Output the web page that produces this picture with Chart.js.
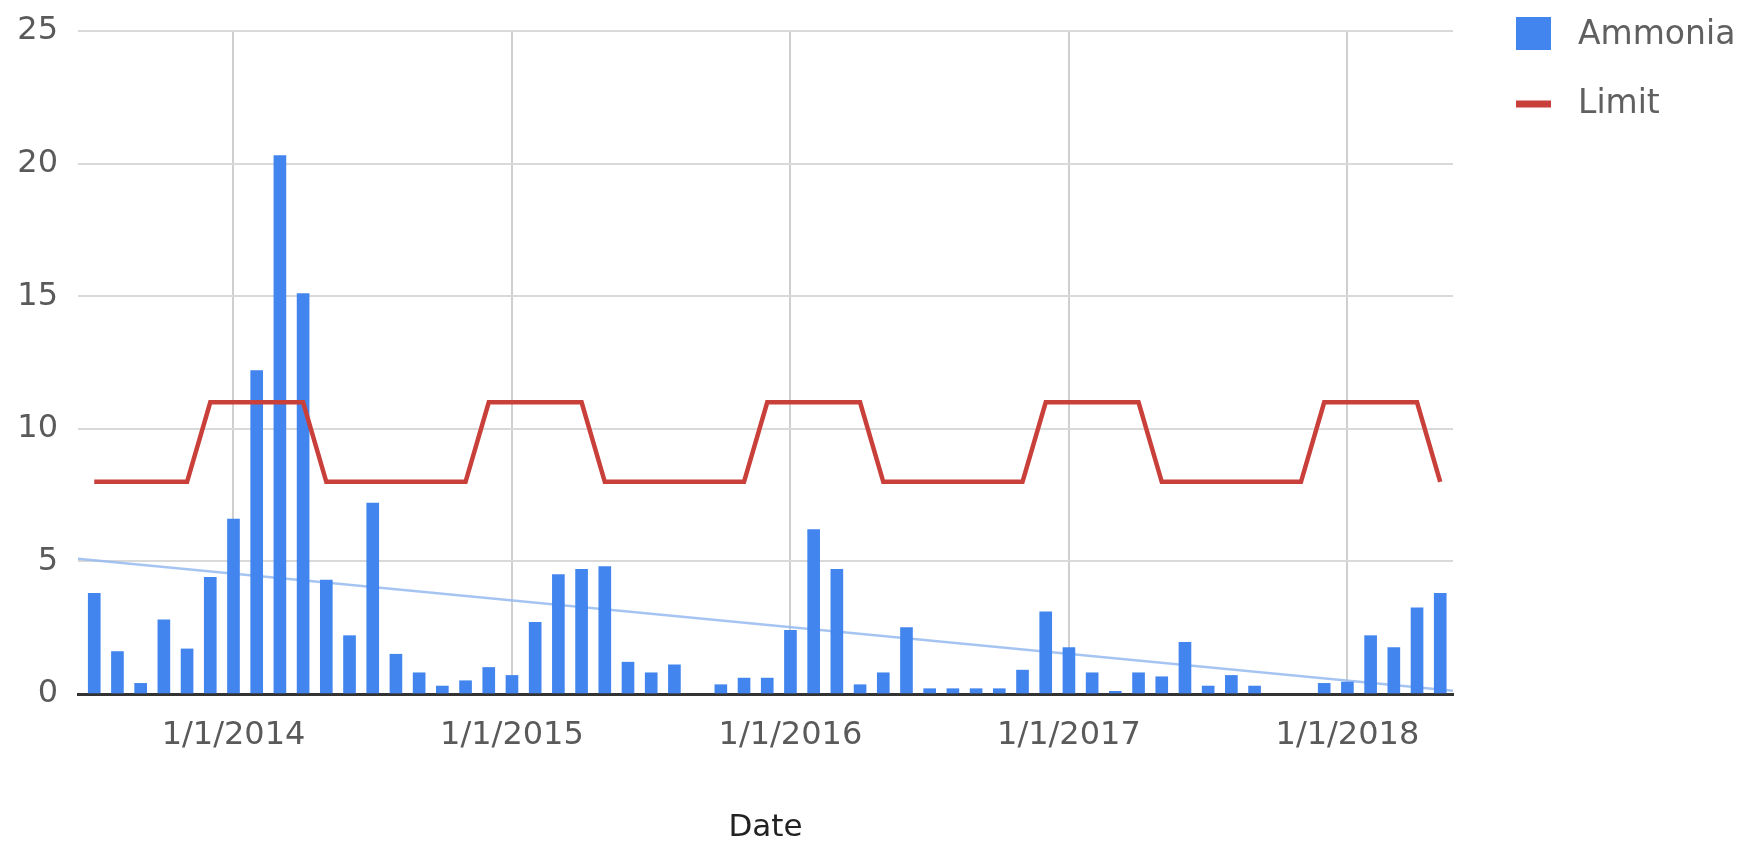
<!DOCTYPE html>
<html>
<head>
<meta charset="utf-8">
<script src="https://cdn.jsdelivr.net/npm/chart.js@4.4.1/dist/chart.umd.min.js"></script>
<style>
  html, body { margin: 0; padding: 0; background: #fff; overflow: hidden; }
  #wrap { width: 1742px; height: 841px; }
</style>
</head>
<body>
<div id="wrap"><canvas id="chart" width="1742" height="841"></canvas></div>
<script>
// Monthly sampling dates (year-month)
const months = [
  '2013-07','2013-08','2013-09','2013-10','2013-11','2013-12',
  '2014-01','2014-02','2014-03','2014-04','2014-05','2014-06','2014-07','2014-08','2014-09','2014-10','2014-11','2014-12',
  '2015-01','2015-02','2015-03','2015-04','2015-05','2015-06','2015-07','2015-08','2015-09','2015-10','2015-11','2015-12',
  '2016-01','2016-02','2016-03','2016-04','2016-05','2016-06','2016-07','2016-08','2016-09','2016-10','2016-11','2016-12',
  '2017-01','2017-02','2017-03','2017-04','2017-05','2017-06','2017-07','2017-08','2017-09','2017-10','2017-11','2017-12',
  '2018-01','2018-02','2018-03','2018-04','2018-05'
];

// Ammonia result per month (null = no sample that month)
const ammonia = [
  3.8, 1.6, 0.4, 2.8, 1.7, 4.4,
  6.6, 12.2, 20.3, 15.1, 4.3, 2.2, 7.2, 1.5, 0.8, 0.3, 0.5, 1.0,
  0.7, 2.7, 4.5, 4.7, 4.8, 1.2, 0.8, 1.1, null, 0.35, 0.6, 0.6,
  2.4, 6.2, 4.7, 0.35, 0.8, 2.5, 0.2, 0.2, 0.2, 0.2, 0.9, 3.1,
  1.75, 0.8, 0.1, 0.8, 0.65, 1.95, 0.3, 0.7, 0.3, null, null, 0.4,
  0.45, 2.2, 1.75, 3.25, 3.8
];

// Permit limit per month (winter limit Dec-Apr, summer limit May-Nov)
const limit = [
  8, 8, 8, 8, 8, 11,
  11, 11, 11, 11, 8, 8, 8, 8, 8, 8, 8, 11,
  11, 11, 11, 11, 8, 8, 8, 8, 8, 8, 8, 11,
  11, 11, 11, 11, 8, 8, 8, 8, 8, 8, 8, 11,
  11, 11, 11, 11, 8, 8, 8, 8, 8, 8, 8, 11,
  11, 11, 11, 11, 8
];

// Year gridline labels along the date axis
const yearTicks = ['1/1/2014', '1/1/2015', '1/1/2016', '1/1/2017', '1/1/2018'];

// Linear trend of ammonia: value at the start and the end of the date axis
const trendEnds = [5.1, 0.12];

// Date axis span, in months counted from Jan 2013
const X_MIN = 5.3;
const X_MAX = 64.55;

const monthIndex = s => {
  const [y, m] = s.split('-').map(Number);
  return (y - 2013) * 12 + (m - 1);
};
const tickIndex = s => (Number(s.split('/')[2]) - 2013) * 12;

const BAR_COLOR = '#4285ee';
const LIMIT_COLOR = '#c9403b';
const FONT = '"DejaVu Sans", sans-serif';

const limitPoints = months.map((m, i) => ({ x: monthIndex(m), y: limit[i] }));
const ammoniaPoints = months
  .map((m, i) => ({ x: monthIndex(m), y: ammonia[i] }))
  .filter(p => p.y !== null);
const trendPoints = [{ x: X_MIN, y: trendEnds[0] }, { x: X_MAX, y: trendEnds[1] }];

// Legend at the top right: swatch + series name
const sideLegend = {
  id: 'sideLegend',
  afterDraw(chart) {
    const ctx = chart.ctx;
    const ds = chart.data.datasets;
    const bars = ds.find(d => d.label === 'Ammonia');
    const line = ds.find(d => d.label === 'Limit');
    ctx.save();
    ctx.font = '33px ' + FONT;
    ctx.textBaseline = 'middle';
    ctx.textAlign = 'left';
    // Ammonia: filled square
    ctx.fillStyle = bars.backgroundColor;
    ctx.fillRect(1516, 17, 35, 33);
    ctx.fillStyle = '#606060';
    ctx.fillText(bars.label, 1578, 35);
    // Limit: line stroke
    ctx.strokeStyle = line.borderColor;
    ctx.lineWidth = 7;
    ctx.beginPath();
    ctx.moveTo(1516, 104);
    ctx.lineTo(1551, 104);
    ctx.stroke();
    ctx.fillText(line.label, 1578, 104);
    ctx.restore();
  }
};

new Chart(document.getElementById('chart'), {
  type: 'bar',
  data: {
    datasets: [
      {
        type: 'line',
        label: 'Limit',
        data: limitPoints,
        borderColor: LIMIT_COLOR,
        backgroundColor: LIMIT_COLOR,
        borderWidth: 4.5,
        pointRadius: 0,
        tension: 0,
        fill: false,
        order: 0
      },
      {
        type: 'bar',
        label: 'Ammonia',
        data: ammoniaPoints,
        backgroundColor: BAR_COLOR,
        barThickness: 12,
        order: 1
      },
      {
        type: 'line',
        label: 'Trend',
        data: trendPoints,
        borderColor: 'rgba(150, 186, 240, 0.85)',
        borderWidth: 2.5,
        pointRadius: 0,
        tension: 0,
        fill: false,
        order: 2
      }
    ]
  },
  options: {
    responsive: false,
    animation: false,
    layout: { padding: { top: 31, right: 289, bottom: 0, left: 0 } },
    plugins: {
      legend: { display: false },
      tooltip: { enabled: false }
    },
    scales: {
      x: {
        type: 'linear',
        min: X_MIN,
        max: X_MAX,
        offset: false,
        afterBuildTicks(scale) {
          scale.ticks = yearTicks.map(t => ({ value: tickIndex(t) }));
        },
        afterFit(scale) {
          scale.height = 147;
          scale.paddingLeft = 0;
          scale.paddingRight = 0;
        },
        ticks: {
          autoSkip: false,
          maxRotation: 0,
          padding: 22,
          color: '#5a5a5a',
          font: { family: FONT, size: 32 },
          callback(value) {
            const label = yearTicks.find(t => tickIndex(t) === value);
            return label || '';
          }
        },
        grid: { color: '#cfcfcf', lineWidth: 2, drawTicks: false, offset: false },
        border: { display: true, color: '#333333', width: 3 },
        title: {
          display: true,
          text: 'Date',
          color: '#222222',
          font: { family: FONT, size: 31 },
          padding: { top: 0, bottom: -6 }
        }
      },
      y: {
        min: 0,
        max: 25,
        afterFit(scale) {
          scale.width = 78;
          scale.paddingTop = 0;
          scale.paddingBottom = 0;
        },
        ticks: {
          stepSize: 5,
          padding: 20,
          color: '#5a5a5a',
          font: { family: FONT, size: 32 }
        },
        grid: { color: '#d9d9d9', lineWidth: 2, drawTicks: false },
        border: { display: false }
      }
    }
  },
  plugins: [sideLegend]
});
</script>
</body>
</html>
